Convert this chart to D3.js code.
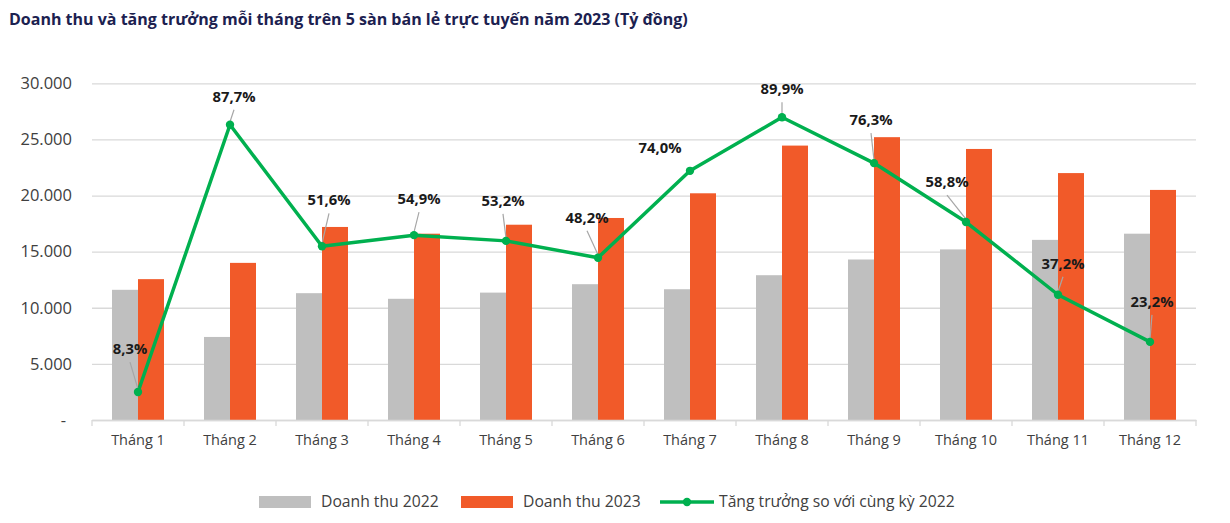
<!DOCTYPE html>
<html><head><meta charset="utf-8">
<script src="https://cdn.jsdelivr.net/npm/d3@7/dist/d3.min.js"></script>
<style>
html,body{margin:0;padding:0;background:#fff;}
svg{display:block;font-family:"Open Sans",sans-serif;}
</style></head>
<body>
<svg id="chart" width="1230" height="523"></svg>
<script>
const months = ["Tháng 1","Tháng 2","Tháng 3","Tháng 4","Tháng 5","Tháng 6","Tháng 7","Tháng 8","Tháng 9","Tháng 10","Tháng 11","Tháng 12"];
const rev2022 = [11600,7400,11300,10800,11350,12100,11650,12900,14300,15200,16050,16600];
const rev2023 = [12550,14000,17200,16600,17400,18000,20200,24450,25200,24150,22000,20500];
const growth = [8.3,87.7,51.6,54.9,53.2,48.2,74.0,89.9,76.3,58.8,37.2,23.2];
const growthLabels = ["8,3%","87,7%","51,6%","54,9%","53,2%","48,2%","74,0%","89,9%","76,3%","58,8%","37,2%","23,2%"];
const yTicks = [0,5000,10000,15000,20000,25000,30000];
const seriesNames = ["Doanh thu 2022","Doanh thu 2023","Tăng trưởng so với cùng kỳ 2022"];
const titleText = "Doanh thu và tăng trưởng mỗi tháng trên 5 sàn bán lẻ trực tuyến năm 2023 (Tỷ đồng)";

// label placement (layout, not data): offset of label centre from its point, and whether a leader line is drawn
const labelDx = [-8,4,7,5,-3,-11,-30,0,-3,-19,5,2];
const labelDy = [-43,-28,-46,-36,-40,-40,-23,-28,-43,-40,-31,-40];
const leader = [true,true,true,true,true,true,false,true,true,true,true,true];

const colors = {g22:"#bfbfbf", g23:"#f15a29", line:"#00b04f", grid:"#d9d9d9", text:"#404040", title:"#1c2150"};

const svg = d3.select("#chart");
const L = 92, R = 1196, T = 83.3, B = 420;

const x = d3.scaleBand().domain(months).range([L,R]);
const xs = d3.scaleBand().domain(["2022","2023"]).range([20,72]);
const y = d3.scaleLinear().domain([0,30000]).range([B,T]);
const y2 = d3.scaleLinear().domain([0,100]).range([B,T]);

// title
svg.append("text").attr("x",9).attr("y",25)
  .attr("font-size","16px").attr("font-weight","bold").attr("fill",colors.title)
  .text(titleText);

// gridlines + y labels
const yAxis = d3.axisLeft(y).tickValues(yTicks).tickSize(-(R-L))
  .tickFormat(d => d===0 ? "-" : d3.format(",")(d).replace(/,/g,"."));
const gy = svg.append("g").attr("transform",`translate(${L},0)`).call(yAxis);
gy.select(".domain").remove();
gy.selectAll(".tick line").attr("stroke",colors.grid).attr("stroke-width",1.3);
gy.selectAll(".tick text").attr("x",-20).attr("font-size","16.5px").attr("fill",colors.text)
  .attr("font-family","Open Sans");
gy.selectAll(".tick").filter(d=>d===0).select("text").attr("x",-26);

// bars
const g = svg.append("g");
g.selectAll("rect.b22").data(months).join("rect")
  .attr("x",(d)=>x(d)+xs("2022")).attr("width",xs.bandwidth())
  .attr("y",(d,i)=>y(rev2022[i])).attr("height",(d,i)=>B-y(rev2022[i]))
  .attr("fill",colors.g22);
g.selectAll("rect.b23").data(months).join("rect")
  .attr("x",(d)=>x(d)+xs("2023")).attr("width",xs.bandwidth())
  .attr("y",(d,i)=>y(rev2023[i])).attr("height",(d,i)=>B-y(rev2023[i]))
  .attr("fill",colors.g23);

// x axis
const xAxis = d3.axisBottom(x).tickSize(0).tickPadding(15);
const gx = svg.append("g").attr("transform",`translate(0,${B})`).call(xAxis);
gx.select(".domain").attr("stroke",colors.grid).attr("stroke-width",1.5);
gx.selectAll(".tick text").attr("font-size","14.5px").attr("fill",colors.text).attr("font-family","Open Sans");
const bounds = months.map(m=>x(m)).concat([R]);
svg.append("g").selectAll("line").data(bounds).join("line")
  .attr("x1",d=>d).attr("x2",d=>d).attr("y1",B).attr("y2",B+6)
  .attr("stroke",colors.grid).attr("stroke-width",1.3);

// growth line
const cx = (i)=>x(months[i])+x.bandwidth()/2;
const line = d3.line().x((d,i)=>cx(i)).y(d=>y2(d));
svg.append("path").datum(growth).attr("d",line)
  .attr("fill","none").attr("stroke",colors.line).attr("stroke-width",3.5).attr("stroke-linejoin","round");

// leader lines
const lg = svg.append("g");
growth.forEach((v,i)=>{
  if(!leader[i]) return;
  const px = cx(i), py = y2(v);
  const lx = px+labelDx[i], ly = py+labelDy[i]+13;
  lg.append("line").attr("x1",lx).attr("y1",ly).attr("x2",px).attr("y2",py-3)
    .attr("stroke","#a6a6a6").attr("stroke-width",1.2);
});

svg.append("g").selectAll("circle").data(growth).join("circle")
  .attr("cx",(d,i)=>cx(i)).attr("cy",d=>y2(d)).attr("r",4.2).attr("fill",colors.line);

// labels
svg.append("g").selectAll("text").data(growth).join("text")
  .attr("x",(d,i)=>cx(i)+labelDx[i]).attr("y",(d,i)=>y2(d)+labelDy[i])
  .attr("dy","0.35em").attr("text-anchor","middle")
  .attr("font-size","14.8px").attr("font-weight","bold").attr("fill","#1a1a1a")
  .text((d,i)=>growthLabels[i]);

// legend
const lgd = svg.append("g").attr("font-size","15.7px").attr("fill",colors.text);
const ly0 = 502;
lgd.append("rect").attr("x",259).attr("y",ly0-6).attr("width",52).attr("height",12).attr("fill",colors.g22);
lgd.append("text").attr("x",321).attr("y",ly0).attr("dy","0.35em").attr("fill",colors.text).text(seriesNames[0]);
lgd.append("rect").attr("x",461).attr("y",ly0-6).attr("width",52).attr("height",12).attr("fill",colors.g23);
lgd.append("text").attr("x",523).attr("y",ly0).attr("dy","0.35em").attr("fill",colors.text).text(seriesNames[1]);
lgd.append("line").attr("x1",660).attr("x2",714).attr("y1",ly0).attr("y2",ly0).attr("stroke",colors.line).attr("stroke-width",3.5);
lgd.append("circle").attr("cx",687).attr("cy",ly0).attr("r",4.2).attr("fill",colors.line);
lgd.append("text").attr("x",719).attr("y",ly0).attr("dy","0.35em").attr("fill",colors.text).text(seriesNames[2]);
</script>
</body></html>
